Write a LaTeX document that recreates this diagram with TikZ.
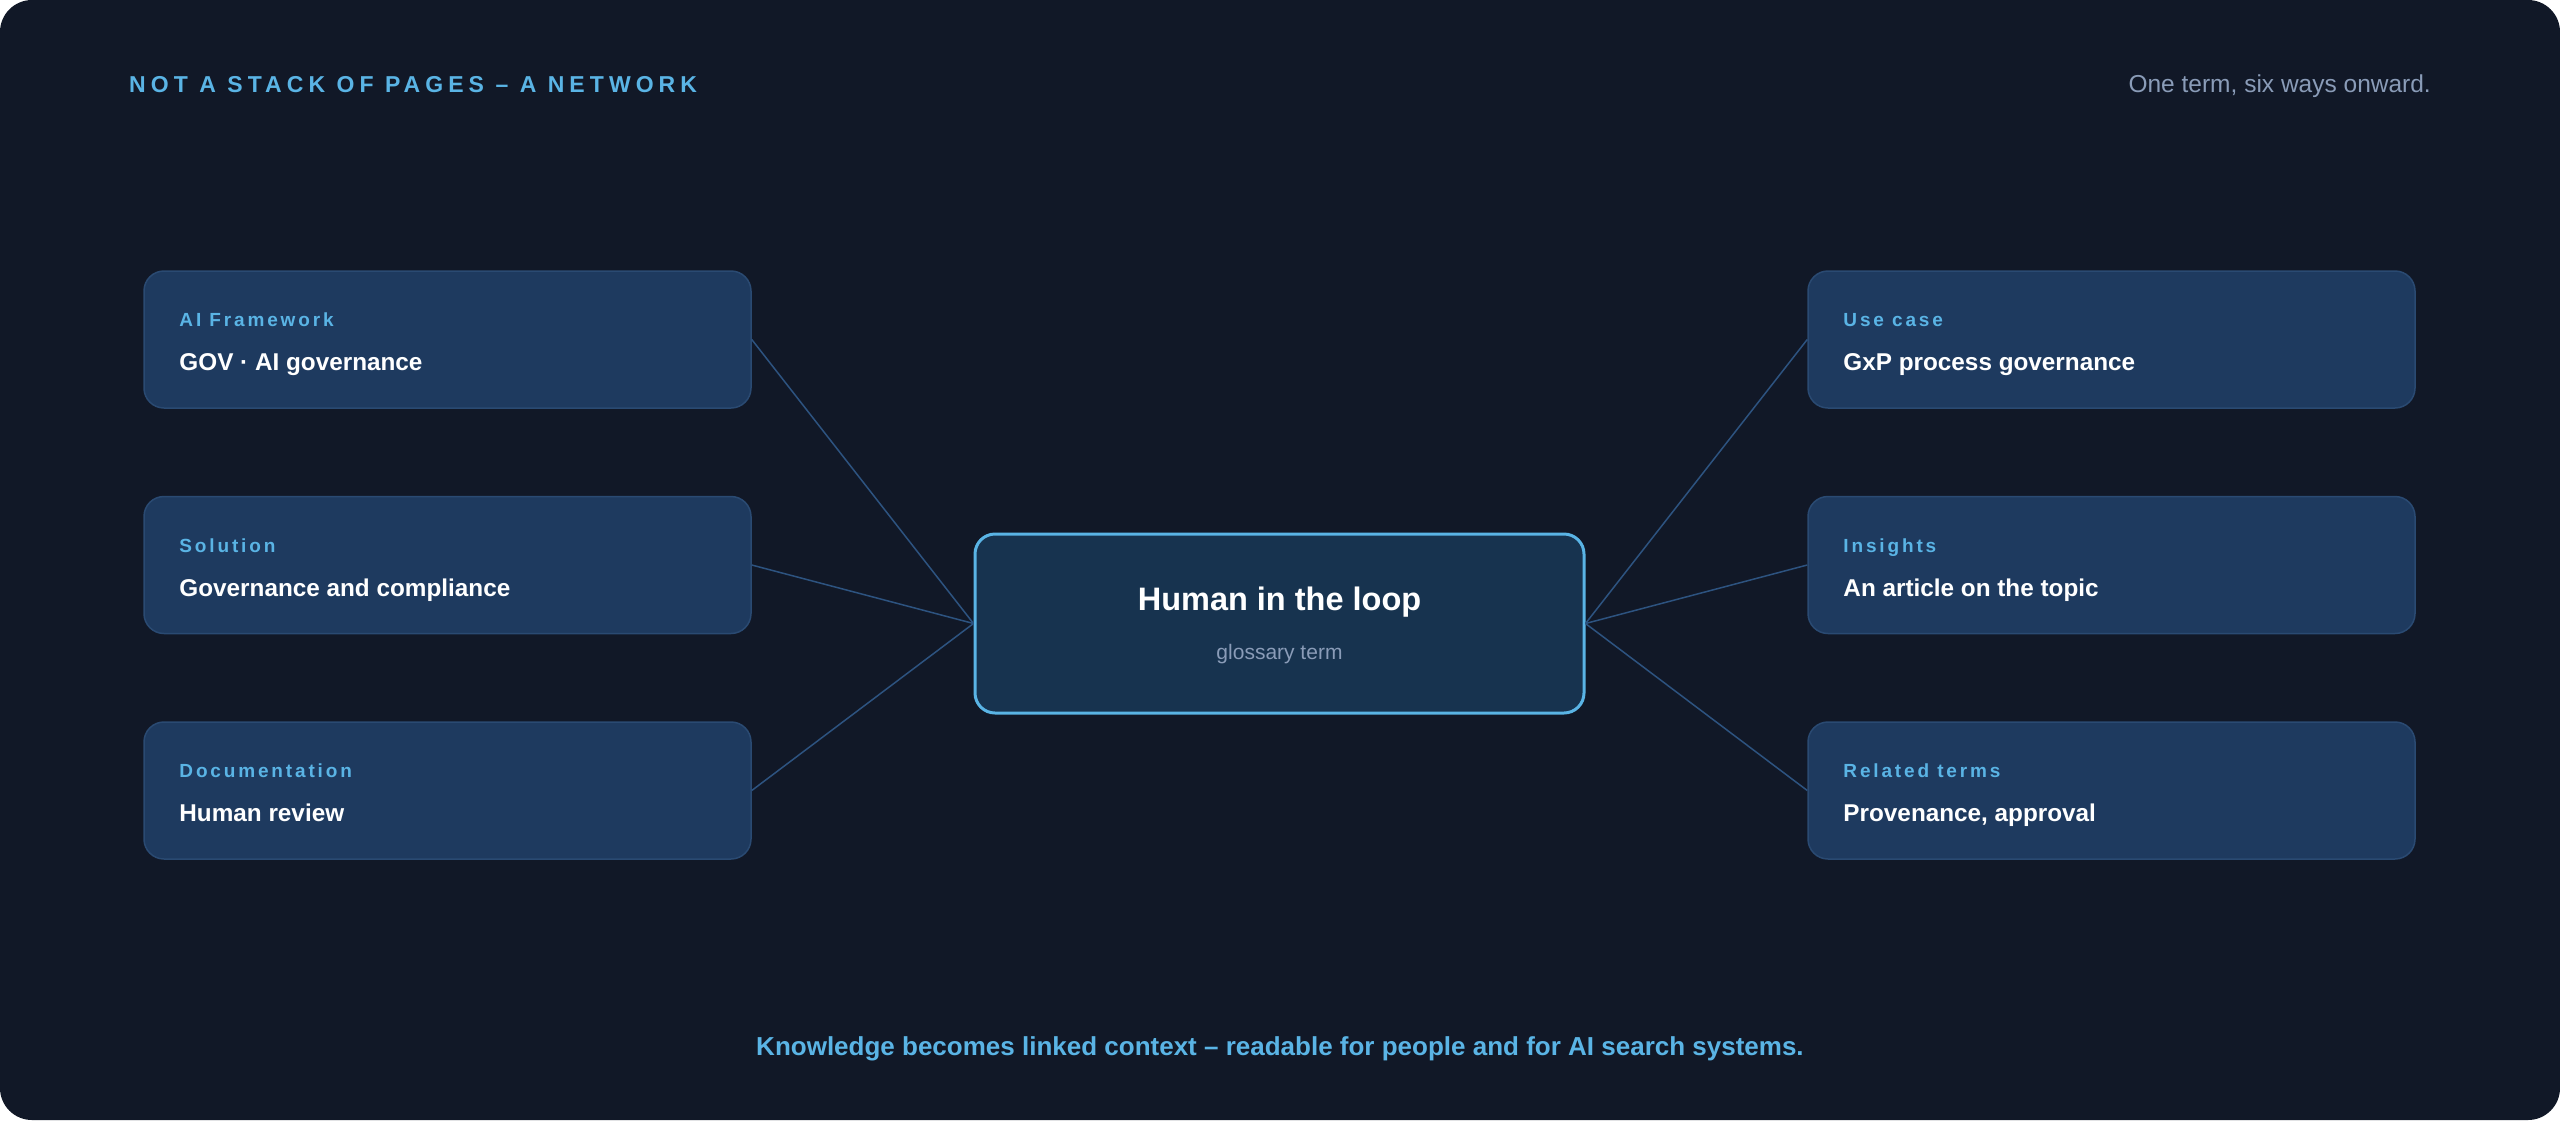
\documentclass[tikz,border=0pt]{standalone}
\usepackage{fontspec}
\usepackage{xcolor}
\setmainfont{Liberation Sans}
\newfontfamily\headfont[LetterSpace=22]{Liberation Sans}
\newfontfamily\tagfont[LetterSpace=15]{Liberation Sans}
\usetikzlibrary{positioning}

\definecolor{bgnavy}{HTML}{111827}
\definecolor{cardfill}{HTML}{1E3A5F}
\definecolor{cardline}{HTML}{2A4A72}
\definecolor{hubfill}{HTML}{17334F}
\definecolor{skyblue}{HTML}{5AB4E5}
\definecolor{mutedgray}{HTML}{8A9CB8}
\definecolor{linkblue}{HTML}{2D5380}

\begin{document}
\begin{tikzpicture}[x=1pt,y=-1pt]
\tikzset{card/.style={draw=cardline,fill=cardfill,line width=1.5pt,rounded corners=20pt,minimum width=607pt,minimum height=137pt}}
\tikzset{hub/.style={draw=skyblue,fill=hubfill,line width=3pt,rounded corners=20pt,minimum width=609pt,minimum height=179pt}}
\tikzset{tag/.style={anchor=base west,inner sep=0pt,text=skyblue,font=\tagfont\bfseries\fontsize{19}{19}\selectfont}}
\tikzset{cardtext/.style={anchor=base west,inner sep=0pt,text=white,font=\bfseries\fontsize{24.3}{24.3}\selectfont}}
\tikzset{link/.style={draw=linkblue,line width=1.5pt}}

\useasboundingbox (0,0) rectangle (2560,1120);
\fill[bgnavy,rounded corners=32pt] (0,0) rectangle (2560,1120);

% header
\node[anchor=base west,inner sep=0pt,text=skyblue,font=\headfont\bfseries\fontsize{23}{23}\selectfont] (head) at (129,92.7) {NOT A STACK OF PAGES – A NETWORK};
\node[anchor=base east,inner sep=0pt,text=mutedgray,font=\fontsize{24.5}{24.5}\selectfont] (sub) at (2431,92.7) {One term, six ways onward.};

% cards
\node[card] (fw) at (447.5,339.5) {};
\node[card,below=87pt of fw] (sol) {};
\node[card,below=87pt of sol] (doc) {};
\node[card] (uc) at (2111.5,339.5) {};
\node[card,below=87pt of uc] (ins) {};
\node[card,below=87pt of ins] (rel) {};
\node[hub] (hil) at (1279.5,623.5) {};

\node[tag] (fw-tag) at ([xshift=36pt,yshift=12.8pt]fw.west) {AI Framework};
\node[cardtext] (fw-txt) at ([xshift=36pt,yshift=-31.2pt]fw.west) {GOV · AI governance};
\node[tag] (sol-tag) at ([xshift=36pt,yshift=12.8pt]sol.west) {Solution};
\node[cardtext] (sol-txt) at ([xshift=36pt,yshift=-31.2pt]sol.west) {Governance and compliance};
\node[tag] (doc-tag) at ([xshift=36pt,yshift=12.8pt]doc.west) {Documentation};
\node[cardtext] (doc-txt) at ([xshift=36pt,yshift=-31.2pt]doc.west) {Human review};
\node[tag] (uc-tag) at ([xshift=36pt,yshift=12.8pt]uc.west) {Use case};
\node[cardtext] (uc-txt) at ([xshift=36pt,yshift=-31.2pt]uc.west) {GxP process governance};
\node[tag] (ins-tag) at ([xshift=36pt,yshift=12.8pt]ins.west) {Insights};
\node[cardtext] (ins-txt) at ([xshift=36pt,yshift=-31.2pt]ins.west) {An article on the topic};
\node[tag] (rel-tag) at ([xshift=36pt,yshift=12.8pt]rel.west) {Related terms};
\node[cardtext] (rel-txt) at ([xshift=36pt,yshift=-31.2pt]rel.west) {Provenance, approval};

\node[anchor=base,inner sep=0pt,text=white,font=\bfseries\fontsize{32.5}{32.5}\selectfont] (hil-title) at ([yshift=12.8pt]hil.center) {Human in the loop};
\node[anchor=base,inner sep=0pt,text=mutedgray,font=\fontsize{21}{21}\selectfont] (hil-sub) at ([yshift=-35.8pt]hil.center) {glossary term};

% links
\draw[link] (fw.east) -- (hil.west);
\draw[link] (sol.east) -- (hil.west);
\draw[link] (doc.east) -- (hil.west);
\draw[link] (uc.west) -- (hil.east);
\draw[link] (ins.west) -- (hil.east);
\draw[link] (rel.west) -- (hil.east);

% footer
\node[anchor=base,inner sep=0pt,text=skyblue,font=\bfseries\fontsize{26}{26}\selectfont] (foot) at (1280,1055) {Knowledge becomes linked context – readable for people and for AI search systems.};
\end{tikzpicture}
\end{document}
